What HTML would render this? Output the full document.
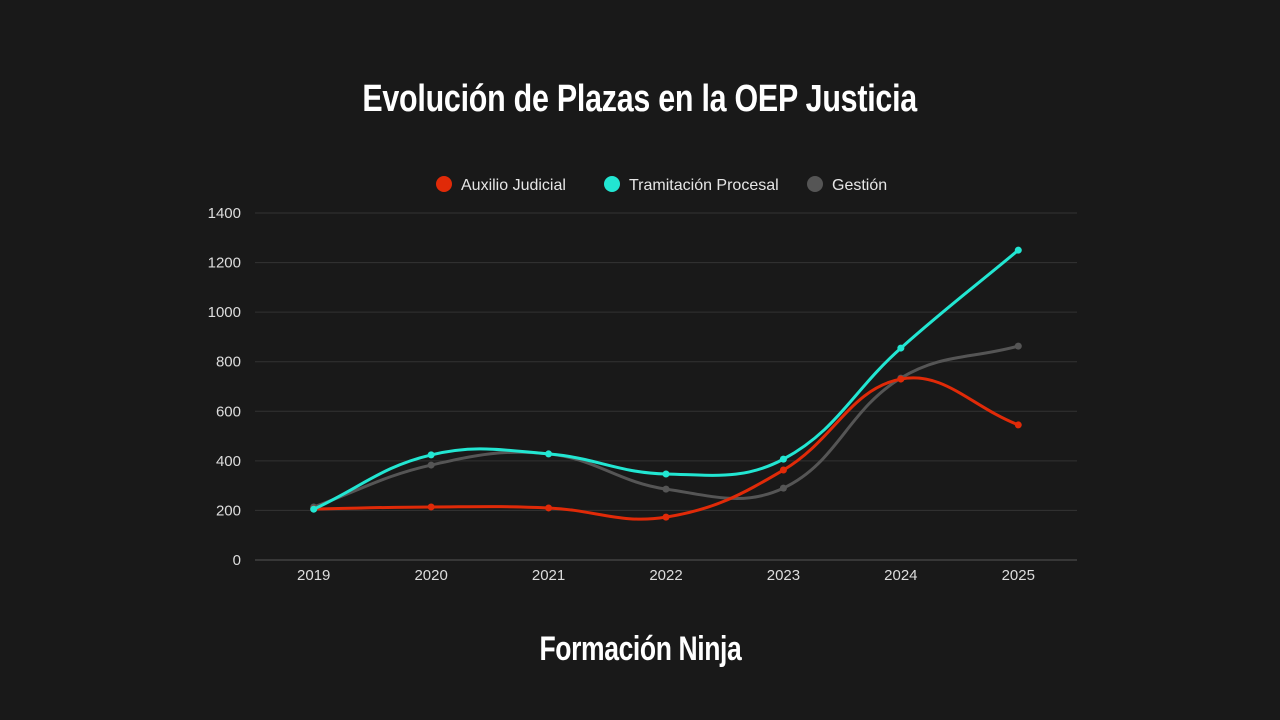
<!DOCTYPE html>
<html><head><meta charset="utf-8">
<style>
html,body{margin:0;padding:0;background:#191919;}
body{width:1280px;height:720px;overflow:hidden;position:relative;font-family:"Liberation Sans",sans-serif;}
#title{position:absolute;left:0;width:1280px;top:78px;text-align:center;color:#fff;font-weight:bold;font-size:38px;font-family:"Liberation Sans Narrow","Liberation Sans",sans-serif;letter-spacing:-0.3px;}
#title span,#logo span{display:inline-block;}
#title span{transform:scaleX(0.8);}
#logo span{transform:scaleX(0.78);}
#logo{position:absolute;left:0;width:1280px;top:630px;text-align:center;color:#fff;font-weight:bold;font-size:34px;font-family:"Liberation Sans Narrow","Liberation Sans",sans-serif;letter-spacing:-0.5px;}
svg{position:absolute;left:0;top:0;}
</style></head><body>
<div id="title"><span>Evolución de Plazas en la OEP Justicia</span></div>
<svg id="chart" width="1280" height="720"></svg>
<div id="logo"><span>Formación Ninja</span></div>
<script>
const years = ["2019","2020","2021","2022","2023","2024","2025"];
const auxilio = [206,214,210,173,363,730,545];
const tramitacion = [205,424,428,347,407,855,1250];
const gestion = [214,383,428,286,290,734,863];
const yTicks = [0,200,400,600,800,1000,1200,1400];
const seriesNames = ["Auxilio Judicial","Tramitación Procesal","Gestión"];

const NS="http://www.w3.org/2000/svg";
const svg=document.getElementById('chart');
const X0=255,X1=1077,Y0=560,Y1=213,yMax=1400;
const step=(X1-X0)/years.length;
const xs=i=>X0+step*(i+0.5);
const ys=v=>Y0-(v/yMax)*(Y0-Y1);
function mk(tag,attrs,parent){const e=document.createElementNS(NS,tag);for(const k in attrs)e.setAttribute(k,attrs[k]);(parent||svg).appendChild(e);return e;}

yTicks.forEach(t=>{
  const l=mk('line',{x1:X0,x2:X1,y1:ys(t),y2:ys(t),stroke:t===0?'#555':'#333','stroke-width':1});
  
  
  const tx=mk('text',{x:241,y:ys(t)+5,'text-anchor':'end',fill:'#ddd','font-size':15});
  tx.textContent=t;
  
  
});
years.forEach((y,i)=>{
  const tx=mk('text',{x:xs(i),y:580,'text-anchor':'middle',fill:'#ddd','font-size':15});
  tx.textContent=y;
  
  
});

function spline(pts,t){
  const cps=[];
  for(let i=0;i<pts.length;i++){
    const p=pts[Math.max(0,i-1)],c=pts[i],n=pts[Math.min(pts.length-1,i+1)];
    const d01=Math.hypot(c[0]-p[0],c[1]-p[1]),d12=Math.hypot(n[0]-c[0],n[1]-c[1]);
    let s01=d01/(d01+d12)||0,s12=d12/(d01+d12)||0;
    const fa=t*s01,fb=t*s12;
    cps.push({p:[c[0]-fa*(n[0]-p[0]),c[1]-fa*(n[1]-p[1])],n:[c[0]+fb*(n[0]-p[0]),c[1]+fb*(n[1]-p[1])]});
  }
  let d=`M${pts[0][0]},${pts[0][1]}`;
  for(let i=1;i<pts.length;i++){
    d+=` C${cps[i-1].n[0]},${cps[i-1].n[1]} ${cps[i].p[0]},${cps[i].p[1]} ${pts[i][0]},${pts[i][1]}`;
  }
  return d;
}
const series=[[gestion,'#555555','gestion'],[auxilio,'#e02a08','auxilio-judicial'],[tramitacion,'#22e6d2','tramitacion-procesal']];
series.forEach(([vals,col,nm])=>{
  const pts=vals.map((v,i)=>[xs(i),ys(v)]);
  const p=mk('path',{d:spline(pts,0.4),fill:'none',stroke:col,'stroke-width':3});
  
  
  pts.forEach(pt=>{
    const c=mk('circle',{cx:pt[0],cy:pt[1],r:3.5,fill:col});
    
    
  });
});
const legendCols=['#e02a08','#22e6d2','#555555'];
const legendX=[444,612,815];
seriesNames.forEach((n,i)=>{
  const g=mk('g',{});
  
  
  mk('circle',{cx:legendX[i],cy:184,r:8,fill:legendCols[i]},g);
  const t=mk('text',{x:legendX[i]+17,y:190,fill:'#e6e6e6','font-size':16},g);
  t.textContent=n;
});
</script>
</body></html>
